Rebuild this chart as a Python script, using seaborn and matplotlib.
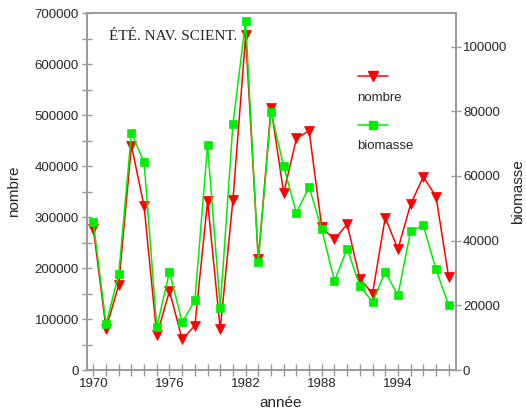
import matplotlib

matplotlib.use("Agg")
import matplotlib.pyplot as plt
import numpy as np
import pandas as pd
import seaborn as sns
from matplotlib.lines import Line2D
from matplotlib.ticker import MultipleLocator

# values
years = list(range(1970, 1999))
nombre = [
    277000, 81000, 167000, 440000, 321000, 68000, 155000, 60000, 87000, 331000,
    80000, 334000, 656000, 217000, 514000, 347000, 454000, 469000, 280000, 256000,
    286000, 179000, 150000, 299000, 237000, 325000, 379000, 340000, 182000,
]
biomasse = [
    45650, 14220, 29580, 73260, 64200, 13200, 30390, 14740, 21540, 69450,
    19260, 76130, 107900, 33540, 79840, 62960, 48530, 56660, 43490, 27500,
    37500, 26060, 21020, 30390, 23080, 42960, 44730, 31130, 20000,
]
year_ticks = [1970, 1976, 1982, 1988, 1994]
title_text = "ÉTÉ. NAV. SCIENT."

df = pd.DataFrame({"annee": years, "nombre": nombre, "biomasse": biomasse})

RED = "#ff0000"
GREEN = "#00ee00"
GREY = "#999999"

sns.set_style("ticks")
plt.rcParams["font.family"] = ["Liberation Sans", "DejaVu Sans"]

fig = plt.figure(figsize=(5.26, 4.12), dpi=100)
ax = fig.add_axes([0.1654, 0.1019, 0.7009, 0.8665])
ax2 = ax.twinx()

sns.lineplot(data=df, x="annee", y="nombre", ax=ax, color=RED, lw=1.1,
             marker="v", markersize=6.5, markeredgecolor=RED, markeredgewidth=0.5,
             legend=False)
sns.lineplot(data=df, x="annee", y="biomasse", ax=ax2, color=GREEN, lw=1.1,
             marker="s", markersize=5.3, markeredgecolor=GREEN, markeredgewidth=0.5,
             legend=False)

ax.set_xlim(1969.5, 1998.55)
ax.set_ylim(0, 700000)
ax2.set_ylim(0, 110400)

ax.set_xticks(year_ticks)
ax.xaxis.set_minor_locator(MultipleLocator(1))
ax.yaxis.set_major_locator(MultipleLocator(100000))
ax.yaxis.set_minor_locator(MultipleLocator(50000))
ax2.yaxis.set_major_locator(MultipleLocator(20000))

for a in (ax, ax2):
    for s in a.spines.values():
        s.set_color(GREY)
        s.set_linewidth(1.2)
        s.set_visible(True)

ax.tick_params(axis="x", which="both", direction="inout", length=9, width=1,
               color=GREY, labelsize=9.5, pad=1.5)
ax.tick_params(axis="y", which="both", direction="inout", length=6.5, width=1,
               color=GREY, labelsize=9.5, pad=2.5)
ax2.tick_params(axis="y", which="both", direction="inout", length=6.5, width=1,
                color=GREY, labelsize=9.5, pad=2)

ax.set_xlabel("année", fontsize=11)
ax.xaxis.set_label_coords(0.526, -0.073)
ax.set_ylabel("nombre", fontsize=11, labelpad=9.5)
ax2.set_ylabel("biomasse", fontsize=11, labelpad=2.5)

ax.text(0.0597, 0.933, title_text, transform=ax.transAxes, ha="left", va="center",
        fontsize=11, family=["Liberation Serif", "DejaVu Serif"])

# legend keys: handle drawn above its label
for y_line, y_txt, col, mk, ms, lab in [
    (0.8235, 0.762, RED, "v", 6.5, "nombre"),
    (0.686, 0.628, GREEN, "s", 5.3, "biomasse"),
]:
    ax2.add_line(Line2D([0.734, 0.8156], [y_line, y_line], transform=ax2.transAxes,
                        color=col, lw=1.1))
    ax2.add_line(Line2D([0.775], [y_line], transform=ax2.transAxes, color=col,
                        marker=mk, markersize=ms, markeredgecolor=col))
    ax2.text(0.734, y_txt, lab, transform=ax2.transAxes, ha="left", va="center",
             fontsize=9.5)

fig.savefig("out.png", dpi=100)
plt.close(fig)
